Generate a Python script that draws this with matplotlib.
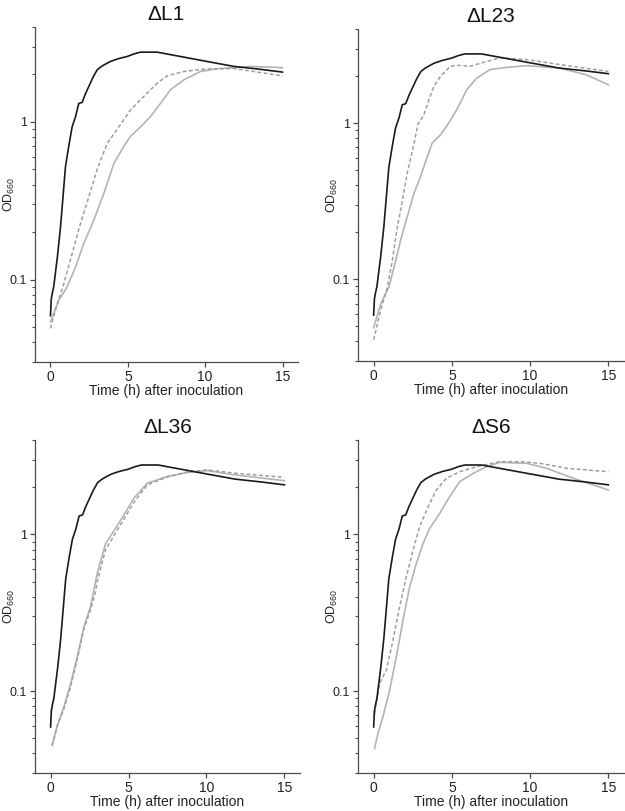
import matplotlib
matplotlib.use("Agg")
import matplotlib.pyplot as plt
import numpy as np
from matplotlib.ticker import LogLocator, FixedLocator, FixedFormatter, NullFormatter

plt.rcParams['font.family'] = ['Liberation Sans', 'DejaVu Sans']
plt.rcParams['mathtext.fontset'] = 'custom'
plt.rcParams['mathtext.rm'] = 'Liberation Sans'
plt.rcParams['mathtext.it'] = 'Liberation Sans:italic'
plt.rcParams['mathtext.default'] = 'rm'

# ---- data ----
wt_t = [0, 0.05, 0.12, 0.21, 0.45, 0.65, 0.97, 1.2, 1.4, 1.62, 1.83, 2.05, 2.25, 2.48, 2.75, 3.02, 3.3, 3.6, 3.88, 4.4, 4.96, 5.4, 5.82, 6.9, 8.4, 10.1, 11.85, 13.5, 15]
wt_od = [0.059, 0.075, 0.082, 0.09, 0.14, 0.216, 0.52, 0.72, 0.93, 1.08, 1.31, 1.33, 1.5, 1.68, 1.92, 2.14, 2.25, 2.34, 2.42, 2.52, 2.60, 2.70, 2.77, 2.77, 2.60, 2.42, 2.25, 2.16, 2.07]

titles = ['\u0394L1', '\u0394L23', '\u0394L36', '\u0394S6']

l1_dash_t = [0, 0.32, 0.86, 1.4, 1.94, 2.48, 3.02, 3.66, 4.42, 5.17, 6.03, 6.9, 7.54, 8.62, 10.1, 11.85, 15]
l1_dash_od = [0.049, 0.064, 0.094, 0.146, 0.227, 0.335, 0.50, 0.73, 0.93, 1.19, 1.45, 1.76, 1.96, 2.09, 2.17, 2.18, 1.96]
l1_solid_t = [0, 0.54, 1.08, 1.62, 2.15, 2.8, 3.45, 4.1, 4.74, 5.17, 5.82, 6.46, 7.11, 7.76, 8.62, 9.7, 10.75, 12.9, 15]
l1_solid_od = [0.054, 0.074, 0.090, 0.12, 0.169, 0.238, 0.352, 0.546, 0.70, 0.81, 0.93, 1.08, 1.31, 1.6, 1.85, 2.09, 2.17, 2.25, 2.21]

l23_dash_t = [0, 0.46, 0.89, 1.2, 1.52, 1.84, 2.15, 2.58, 2.83, 3.21, 3.53, 3.85, 4.27, 4.9, 5.43, 6.17, 7.23, 8.07, 9.76, 11.87, 15]
l23_dash_od = [0.041, 0.064, 0.09, 0.133, 0.218, 0.32, 0.48, 0.74, 0.98, 1.13, 1.41, 1.72, 1.99, 2.31, 2.34, 2.31, 2.48, 2.61, 2.55, 2.37, 2.14]
l23_solid_t = [0, 0.46, 0.99, 1.42, 1.73, 2.15, 2.58, 3.0, 3.32, 3.74, 4.27, 4.8, 5.32, 5.96, 6.59, 7.44, 8.49, 9.76, 11.87, 13.56, 15]
l23_solid_od = [0.049, 0.070, 0.09, 0.133, 0.179, 0.252, 0.356, 0.455, 0.568, 0.745, 0.84, 1.0, 1.22, 1.64, 1.94, 2.2, 2.27, 2.33, 2.25, 2.04, 1.76]

l36_dash_t = [0.1, 0.43, 0.85, 1.28, 1.71, 2.14, 2.56, 2.88, 2.99, 3.53, 4.17, 4.7, 5.34, 6.2, 7.48, 8.76, 10.04, 11.75, 15]
l36_dash_od = [0.045, 0.060, 0.077, 0.106, 0.160, 0.250, 0.33, 0.43, 0.50, 0.80, 1.02, 1.25, 1.6, 2.07, 2.32, 2.50, 2.58, 2.46, 2.31]
l36_solid_t = [0.1, 0.43, 0.85, 1.28, 1.71, 2.14, 2.56, 2.99, 3.53, 4.17, 4.7, 5.34, 6.2, 7.48, 8.76, 10.04, 11.75, 15]
l36_solid_od = [0.045, 0.060, 0.079, 0.111, 0.165, 0.257, 0.345, 0.563, 0.875, 1.09, 1.33, 1.70, 2.12, 2.34, 2.48, 2.55, 2.40, 2.20]

s6_dash_t = [0.06, 0.38, 0.81, 1.24, 1.66, 2.09, 2.52, 2.94, 3.48, 4.01, 4.65, 5.5, 6.57, 8.06, 9.35, 10.62, 12.33, 15]
s6_dash_od = [0.072, 0.112, 0.136, 0.212, 0.345, 0.537, 0.794, 1.12, 1.50, 1.92, 2.28, 2.51, 2.70, 2.91, 2.91, 2.84, 2.64, 2.51]
s6_solid_t = [0.06, 0.28, 0.6, 1.02, 1.45, 1.88, 2.3, 2.73, 3.16, 3.58, 4.22, 4.86, 5.5, 6.36, 7.21, 8.06, 9.77, 11.05, 12.76, 15]
s6_solid_od = [0.043, 0.054, 0.069, 0.101, 0.166, 0.284, 0.463, 0.653, 0.877, 1.09, 1.36, 1.74, 2.17, 2.45, 2.70, 2.88, 2.84, 2.64, 2.28, 1.92]

panels = [
    (l1_dash_t, l1_dash_od, l1_solid_t, l1_solid_od),
    (l23_dash_t, l23_dash_od, l23_solid_t, l23_solid_od),
    (l36_dash_t, l36_dash_od, l36_solid_t, l36_solid_od),
    (s6_dash_t, s6_dash_od, s6_solid_t, s6_solid_od),
]

x_ticks = [0, 5, 10, 15]
y_ticks = [0.1, 1]
y_ticklabels = ['0.1', '1']

# ---- layout (pixels) ----
W, H = 625, 811
boxes = [  # left, top, right, bottom
    (35, 27, 298, 362),
    (358, 29, 624, 361),
    (35, 440, 300, 773),
    (358, 440, 624, 773),
]
ylabel_x_px = [9, 332, 9, 332]

fig = plt.figure(figsize=(W / 100, H / 100), dpi=100)
spine_col = '#4a4a4a'

for i, (l, t, r, b) in enumerate(boxes):
    ax = fig.add_axes([l / W, 1 - b / H, (r - l) / W, (b - t) / H])
    dt, dod, st, sod = panels[i]
    ax.plot(st, sod, color='#b4b4b4', lw=1.2, solid_joinstyle='round')
    ax.plot(dt, dod, color='#9e9e9e', lw=1.1, linestyle=(0, (2.5, 1.6)))
    ax.plot(wt_t, wt_od, color='#1a1a1a', lw=1.2, solid_joinstyle='round')
    ax.set_yscale('log')
    ax.set_xlim(-1, 16)
    ax.set_ylim(0.03, 4)
    ax.yaxis.set_major_locator(FixedLocator(y_ticks))
    ax.yaxis.set_major_formatter(FixedFormatter(y_ticklabels))
    ax.yaxis.set_minor_locator(LogLocator(base=10, subs=np.arange(2, 10), numticks=10))
    ax.yaxis.set_minor_formatter(NullFormatter())
    ax.set_xticks(x_ticks)
    ax.set_xticklabels([str(v) for v in x_ticks])
    for s in ['top', 'right']:
        ax.spines[s].set_visible(False)
    for s in ['left', 'bottom']:
        ax.spines[s].set_color(spine_col)
        ax.spines[s].set_linewidth(0.9)
    ax.tick_params(which='major', direction='out', length=3.5, width=0.9, color=spine_col,
                   labelcolor='#222222', pad=2)
    ax.tick_params(axis='x', which='major', labelsize=10)
    ax.tick_params(axis='y', which='major', labelsize=9)
    ax.tick_params(which='minor', direction='out', length=2.2, width=0.8, color=spine_col)
    ax.set_xlabel('Time (h) after inoculation', fontsize=10, color='#222222', labelpad=0)
    ax.set_ylabel(r'OD$_{660}$', fontsize=9, color='#222222', va='center')
    ax.yaxis.set_label_coords((ylabel_x_px[i] - l) / (r - l), 0.5)
    ax.set_title(titles[i], fontsize=15, color='#111111', pad=5)

fig.savefig('out.png', dpi=100)
